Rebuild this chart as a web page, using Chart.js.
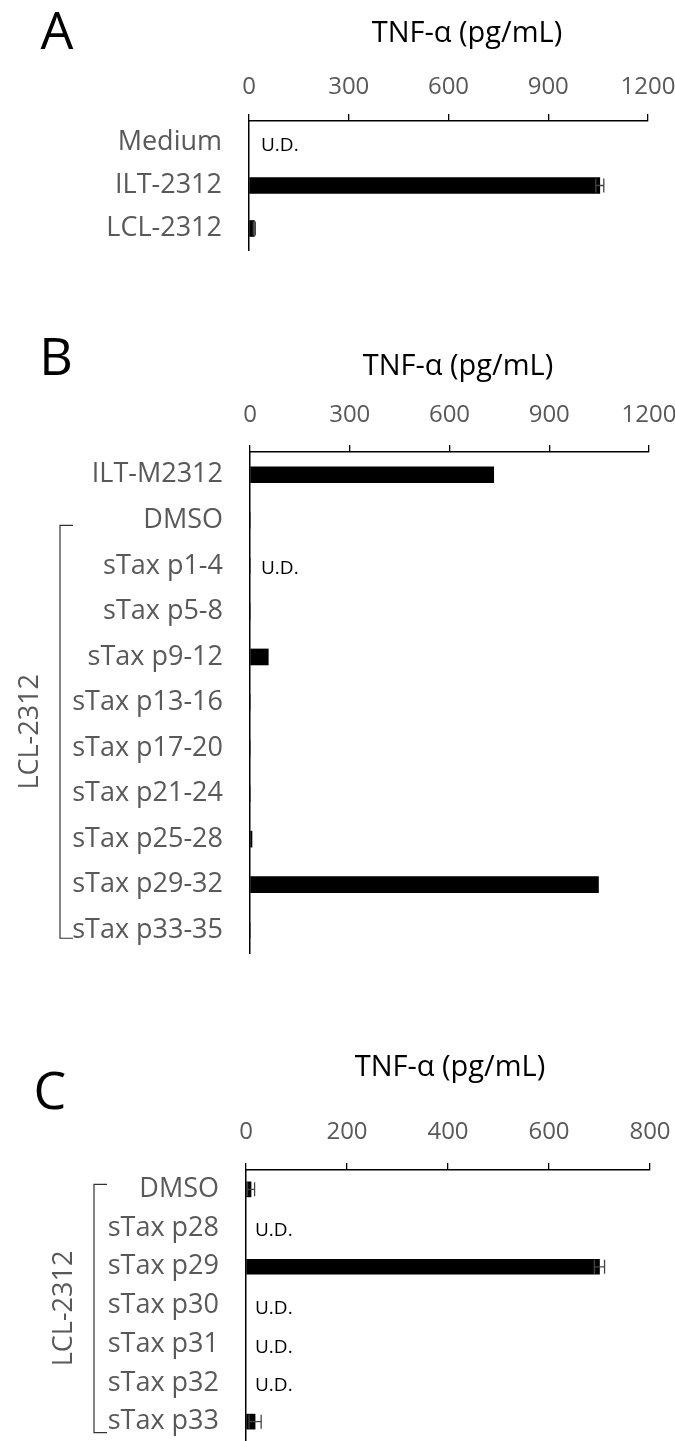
<!DOCTYPE html>
<html lang="en">
<head>
<meta charset="UTF-8" />
<title>TNF-α (pg/mL)</title>
<style>
    body { margin: 0; background: #fff; }
    #wrap { position: relative; width: 675px; height: 1441px; overflow: hidden; }
    canvas { position: absolute; left: 0; }
</style>
</head>
<body>
<div id="wrap">
    <canvas id="chartA" width="675" height="270" style="top:0px"></canvas>
    <canvas id="chartB" width="675" height="670" style="top:300px"></canvas>
    <canvas id="chartC" width="675" height="451" style="top:990px"></canvas>
</div>

<script src="https://cdn.jsdelivr.net/npm/chart.js"></script>
<script>
    // panel A
    const labelsA = ["Medium", "ILT-2312", "LCL-2312"];
    const valuesA = [null, 1055, 16];
    const errorsA = [0, 12, 3];
    const udA = ["Medium"];
    const ticksA = [0, 300, 600, 900, 1200];

    // panel B
    const labelsB = ["ILT-M2312", "DMSO", "sTax p1-4", "sTax p5-8", "sTax p9-12", "sTax p13-16",
        "sTax p17-20", "sTax p21-24", "sTax p25-28", "sTax p29-32", "sTax p33-35"];
    const valuesB = [733, 0, 0, 0, 55, 0, 0, 0, 6, 1048, 0];
    const errorsB = [0, 0, 0, 0, 0, 0, 0, 0, 0, 0, 0];
    const udB = ["sTax p1-4"];
    const ticksB = [0, 300, 600, 900, 1200];

    // panel C
    const labelsC = ["DMSO", "sTax p28", "sTax p29", "sTax p30", "sTax p31", "sTax p32", "sTax p33"];
    const valuesC = [10, null, 700, null, null, null, 18];
    const errorsC = [7, 0, 10, 0, 0, 0, 12];
    const udC = ["sTax p28", "sTax p30", "sTax p31", "sTax p32"];
    const ticksC = [0, 200, 400, 600, 800];

    const FONT = '"Open Sans", "Noto Sans", sans-serif';
    const GRAY = "#595959";

    // extra drawing: error bars, U.D., title, panel letter, bracket
    const decor = {
        id: "decor",
        afterDraw(chart, args, o) {
            const ctx = chart.ctx;
            const xs = chart.scales.x, ys = chart.scales.y;
            ctx.save();

            // error bars
            ctx.strokeStyle = "#444";
            ctx.lineWidth = 1.3;
            o.values.forEach((v, i) => {
                const e = o.errors[i];
                if (v == null || !e) return;
                const y = ys.getPixelForValue(i);
                const x1 = xs.getPixelForValue(Math.max(0, v - e));
                const x2 = xs.getPixelForValue(v + e);
                ctx.beginPath();
                ctx.moveTo(x1, y); ctx.lineTo(x2, y);
                ctx.moveTo(x1, y - 7); ctx.lineTo(x1, y + 7);
                ctx.moveTo(x2, y - 7); ctx.lineTo(x2, y + 7);
                ctx.stroke();
            });

            // U.D.
            ctx.fillStyle = "#000";
            ctx.font = "19px " + FONT;
            ctx.textAlign = "left";
            ctx.textBaseline = "middle";
            o.ud.forEach(lab => {
                const i = o.labels.indexOf(lab);
                ctx.fillText("U.D.", xs.left + o.udOffset, ys.getPixelForValue(i) + 3);
            });

            // axis title
            ctx.font = "29px " + FONT;
            ctx.textAlign = "center";
            ctx.fillText("TNF-α (pg/mL)", o.titleX, o.titleY);

            // panel letter
            ctx.font = "52px " + FONT;
            ctx.fillText(o.letter, o.letterX, o.letterY);

            // bracket + group label
            if (o.bracket) {
                const b = o.bracket;
                const yTop = ys.getPixelForValue(o.labels.indexOf(b.from)) + b.top;
                const yBot = ys.getPixelForValue(o.labels.indexOf(b.to)) + b.bottom;
                ctx.strokeStyle = "#333";
                ctx.lineWidth = 1.2;
                ctx.beginPath();
                ctx.moveTo(b.x + 13, yTop); ctx.lineTo(b.x, yTop);
                ctx.lineTo(b.x, yBot); ctx.lineTo(b.x + 13, yBot);
                ctx.stroke();

                ctx.fillStyle = GRAY;
                ctx.font = "27px " + FONT;
                ctx.translate(b.textX, (yTop + yBot) / 2 + b.textDy);
                ctx.rotate(-Math.PI / 2);
                ctx.fillText("LCL-2312", 0, 0);
            }
            ctx.restore();
        }
    };

    function makeChart(id, p) {
        const canvas = document.getElementById(id);
        return new Chart(canvas, {
            type: "bar",
            data: {
                labels: p.labels,
                datasets: [{
                    data: p.values,
                    backgroundColor: "#000",
                    borderWidth: 0,
                    barThickness: p.barThickness
                }]
            },
            options: {
                indexAxis: "y",
                responsive: false,
                animation: false,
                layout: { padding: { top: 0, left: 0, right: p.padRight, bottom: canvas.height - p.areaBottom } },
                scales: {
                    x: {
                        position: "top",
                        min: p.ticks[0],
                        max: p.ticks[p.ticks.length - 1],
                        ticks: {
                            stepSize: p.ticks[1] - p.ticks[0],
                            callback: v => String(v),
                            color: GRAY,
                            font: { family: FONT, size: 24 },
                            padding: p.tickPad,
                            maxRotation: 0
                        },
                        grid: { drawOnChartArea: false, drawTicks: true, tickLength: 7, color: "#000", lineWidth: 1.3 },
                        border: { display: true, color: "#000", width: 1.5 },
                        afterFit: s => { s.height = p.axisTop; s.paddingLeft = 0; s.paddingRight = 0; }
                    },
                    y: {
                        ticks: {
                            color: GRAY,
                            font: { family: FONT, size: 27 },
                            padding: 27,
                            autoSkip: false
                        },
                        grid: { display: false, drawTicks: false },
                        border: { display: true, color: "#000", width: 1.5 },
                        afterFit: s => { s.width = p.axisLeft; s.paddingTop = 0; s.paddingBottom = 0; }
                    }
                },
                plugins: {
                    legend: { display: false },
                    tooltip: { enabled: false },
                    decor: {
                        labels: p.labels, values: p.values, errors: p.errors, ud: p.ud,
                        udOffset: p.udOffset,
                        titleX: p.titleX, titleY: p.titleY,
                        letter: p.letter, letterX: p.letterX, letterY: p.letterY,
                        bracket: p.bracket
                    }
                }
            },
            plugins: [decor]
        });
    }

    makeChart("chartA", {
        labels: labelsA, values: valuesA, errors: errorsA, ud: udA, ticks: ticksA,
        axisTop: 121, axisLeft: 249, padRight: 27, areaBottom: 250, tickPad: 12, barThickness: 16,
        udOffset: 12, titleX: 467, titleY: 34, letter: "A", letterX: 57, letterY: 34
    });

    makeChart("chartB", {
        labels: labelsB, values: valuesB, errors: errorsB, ud: udB, ticks: ticksB,
        axisTop: 152, axisLeft: 250, padRight: 26, areaBottom: 653, tickPad: 15, barThickness: 16,
        udOffset: 11, titleX: 458, titleY: 67, letter: "B", letterX: 56, letterY: 60,
        bracket: { from: "DMSO", to: "sTax p33-35", x: 60, top: 5, bottom: 8, textX: 30, textDy: 0 }
    });

    makeChart("chartC", {
        labels: labelsC, values: valuesC, errors: errorsC, ud: udC, ticks: ticksC,
        axisTop: 180, axisLeft: 246, padRight: 25, areaBottom: 451, tickPad: 16, barThickness: 15,
        udOffset: 9, titleX: 450, titleY: 78, letter: "C", letterX: 50, letterY: 104,
        bracket: { from: "DMSO", to: "sTax p33", x: 94, top: -5, bottom: 11, textX: 64, textDy: 0 }
    });
</script>
</body>
</html>
